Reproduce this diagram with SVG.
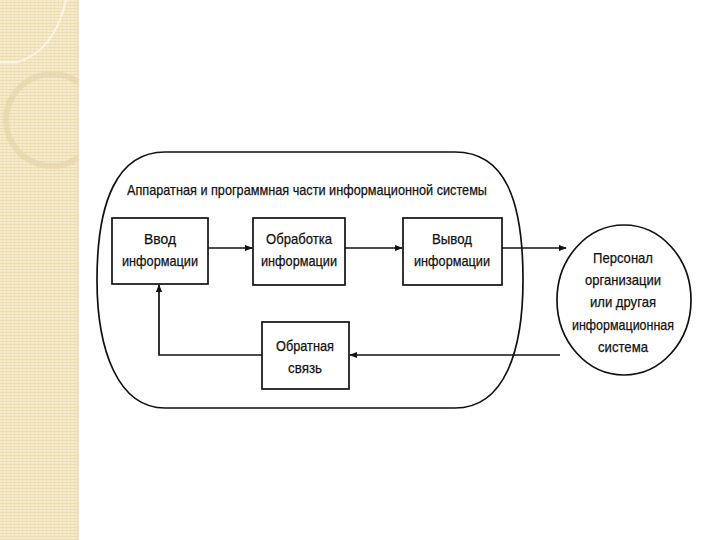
<svg xmlns="http://www.w3.org/2000/svg" width="720" height="540" viewBox="0 0 720 540">
<defs>
<pattern id="stripes" width="4" height="3" patternUnits="userSpaceOnUse">
<rect width="4" height="3" fill="#f5ebcf"/>
<rect y="2" width="4" height="1" fill="#ecdcb2"/>
<rect x="2" width="1" height="2" fill="#f0e2bd"/>
</pattern>
<marker id="arr" viewBox="0 0 10 10" refX="9" refY="5" markerWidth="8" markerHeight="8" markerUnits="userSpaceOnUse" orient="auto">
<path d="M0,1 L10,5 L0,9 Z" fill="#111"/>
</marker>
<style>
.box{fill:#fff;stroke:#111;stroke-width:1.7}
.t{font-family:"Liberation Sans","DejaVu Sans",sans-serif;font-size:15px;fill:#111;text-anchor:middle;stroke:#111;stroke-width:0.25}
.c{fill:none;stroke:#111;stroke-width:1.7}
</style>
</defs>
<rect width="720" height="540" fill="#fff"/>
<g id="decor">
<rect x="0" y="0" width="78" height="540" fill="url(#stripes)"/>
<line x1="78" y1="0" x2="78" y2="540" stroke="#e8d9b0" stroke-width="1.5"/>
<path d="M0,62 L18,62 Q55,50 66,0" fill="none" stroke="#fbf4e2" stroke-width="2"/>
<path d="M78,82 A46,46 0 1 0 78,158" fill="none" stroke="#e6d6aa" stroke-width="6" opacity="0.7"/>
</g>
<g id="container">
<path class="c" d="M165,152 L455,152 C505,152 523,200 523,280 C523,350 505,408 455,408 L165,408 C118,408 97,350 97,280 C97,200 118,152 165,152 Z"/>
<text class="t" x="307" y="195" textLength="360" lengthAdjust="spacingAndGlyphs">Аппаратная и программная части  информационной системы</text>
</g>
<g id="connectors">
<line class="c" x1="208" y1="248" x2="252" y2="248" marker-end="url(#arr)"/>
<line class="c" x1="345" y1="248" x2="402" y2="248" marker-end="url(#arr)"/>
<line class="c" x1="502" y1="248" x2="566" y2="248" marker-end="url(#arr)"/>
<line class="c" x1="560" y1="355" x2="350" y2="355" marker-end="url(#arr)"/>
<polyline class="c" points="262,355 159,355 159,285" marker-end="url(#arr)"/>
</g>
<g id="n-input">
<rect class="box" x="112" y="218" width="96" height="66"/>
<text class="t" x="160" y="244" textLength="32" lengthAdjust="spacingAndGlyphs">Ввод</text>
<text class="t" x="160" y="266" textLength="76" lengthAdjust="spacingAndGlyphs">информации</text>
</g>
<g id="n-process">
<rect class="box" x="253" y="218" width="92" height="67"/>
<text class="t" x="299" y="244" textLength="66" lengthAdjust="spacingAndGlyphs">Обработка</text>
<text class="t" x="299" y="266" textLength="76" lengthAdjust="spacingAndGlyphs">информации</text>
</g>
<g id="n-output">
<rect class="box" x="403" y="218" width="99" height="67"/>
<text class="t" x="452" y="244" textLength="40" lengthAdjust="spacingAndGlyphs">Вывод</text>
<text class="t" x="452" y="266" textLength="76" lengthAdjust="spacingAndGlyphs">информации</text>
</g>
<g id="n-feedback">
<rect class="box" x="262" y="322" width="87" height="67"/>
<text class="t" x="305" y="351" textLength="58" lengthAdjust="spacingAndGlyphs">Обратная</text>
<text class="t" x="305" y="373" textLength="34" lengthAdjust="spacingAndGlyphs">связь</text>
</g>
<g id="n-personnel">
<ellipse class="box" cx="624" cy="300" rx="67" ry="75"/>
<text class="t" x="623" y="263" textLength="60" lengthAdjust="spacingAndGlyphs">Персонал</text>
<text class="t" x="623" y="285" textLength="76" lengthAdjust="spacingAndGlyphs">организации</text>
<text class="t" x="623" y="307" textLength="66" lengthAdjust="spacingAndGlyphs">или другая</text>
<text class="t" x="623" y="330" textLength="102" lengthAdjust="spacingAndGlyphs">информационная</text>
<text class="t" x="623" y="352" textLength="50" lengthAdjust="spacingAndGlyphs">система</text>
</g>
</svg>
